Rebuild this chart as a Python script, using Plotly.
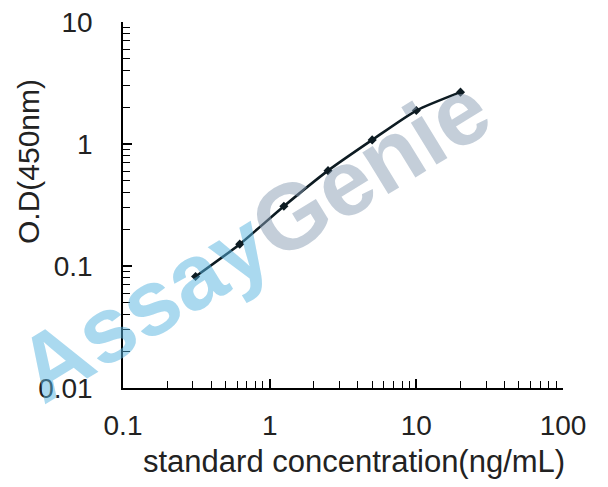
import plotly.graph_objects as go

# standard curve values
conc = [0.3125, 0.625, 1.25, 2.5, 5, 10, 20]
od = [0.082, 0.151, 0.309, 0.605, 1.08, 1.88, 2.66]

x_ticks = [0.1, 1, 10, 100]
x_labels = ["0.1", "1", "10", "100"]
y_ticks = [0.01, 0.1, 1, 10]
y_labels = ["0.01", "0.1", "1", "10"]

font = "Liberation Sans, Arial, sans-serif"

fig = go.Figure()

fig.add_trace(go.Scatter(
    x=conc, y=od, mode="lines+markers",
    line=dict(color="#0d1b22", width=2.6, shape="spline", smoothing=0.6),
    marker=dict(symbol="diamond", size=7, color="#0d1b22"),
    showlegend=False,
))

# watermark (semi transparent so the curve shows through)
fig.add_annotation(
    xref="paper", yref="paper", x=0.297, y=0.408,
    xanchor="center", yanchor="middle",
    text="<b><span style='color:rgba(86,180,224,0.5)'>Assay</span>"
         "<span style='color:rgba(137,157,179,0.5)'>Genie</span></b>",
    textangle=-31.5, showarrow=False,
    font=dict(family=font, size=93),
)

axis_common = dict(
    type="log", showgrid=False, zeroline=False, automargin=False,
    showline=True, linecolor="black", linewidth=1.5,
    ticks="inside", ticklen=9, tickwidth=1.5, tickcolor="black",
    minor=dict(ticks="inside", dtick="D1", ticklen=7, tickwidth=1.3,
               tickcolor="black", showgrid=False),
    tickfont=dict(family=font, size=28, color="#222"),
    ticklabeloverflow="allow",
)

fig.update_xaxes(
    **axis_common,
    range=[-1, 2],
    tickvals=x_ticks, ticktext=x_labels,
    ticklabelstandoff=12,
)
fig.update_yaxes(
    **axis_common,
    range=[-2, 1],
    tickvals=y_ticks, ticktext=y_labels,
    ticklabelstandoff=23,
)

# axis titles
fig.add_annotation(
    xref="paper", yref="paper", x=0.525, y=-0.202,
    xanchor="center", yanchor="middle", showarrow=False,
    text="standard concentration(ng/mL)",
    font=dict(family=font, size=31, color="#222"),
)
fig.add_annotation(
    xref="paper", yref="paper", x=-0.216, y=0.62,
    xanchor="center", yanchor="middle", showarrow=False,
    textangle=-90, text="O.D(450nm)",
    font=dict(family=font, size=30, color="#222"),
)

# the page body adds an 8px offset, so margins are shifted to compensate
fig.update_layout(
    width=608, height=487,
    margin=dict(l=115, r=53, t=14, b=107),
    plot_bgcolor="white", paper_bgcolor="white",
)

fig.write_html("out.html")
